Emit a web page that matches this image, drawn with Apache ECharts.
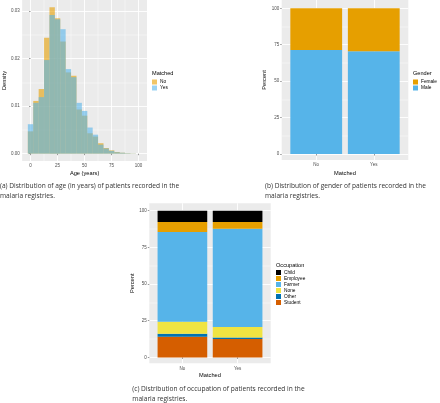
<!DOCTYPE html>
<html>
<head>
<meta charset="utf-8">
<script src="https://cdn.jsdelivr.net/npm/echarts@6/dist/echarts.min.js"></script>
<style>html,body{margin:0;padding:0;background:#fff}#c{width:440px;height:403px}</style>
</head>
<body>
<div id="c"></div>
<script>
// ---- Data ----
const ageBinCenters = [0,5,10,15,20,25,30,35,40,45,50,55,60,65,70,75,80,85,90,95];
const binWidth = 5;
const densityNo  = [0.0047,0.0111,0.0136,0.0244,0.0308,0.0285,0.0236,0.0171,0.0164,0.0093,0.0080,0.0043,0.0036,0.0022,0.0012,0.0007,0.00035,0.0002,0.0001,0.00005];
const densityYes = [0.0062,0.0107,0.0119,0.0197,0.0292,0.0283,0.0262,0.0178,0.0161,0.0107,0.0090,0.0055,0.0040,0.0019,0.0011,0.0006,0.0003,0.0002,0.0001,0.00005];
const ageTicks = [0,25,50,75,100];
const ageMinor = [12.5,37.5,62.5,87.5];
const densityTicks = [0,0.01,0.02,0.03];
const densityMinor = [0.005,0.015,0.025];

const matched = ['No','Yes'];
const genderNames = ['Female','Male'];
const genderMale   = [71.4,70.5];
const genderFemale = [28.6,29.5];

const occNames = ['Child','Employee','Farmer','None','Other','Student'];
const occChild    = [7.7,7.7];
const occEmployee = [6.8,4.6];
const occFarmer   = [61.2,67.0];
const occNone     = [8.2,7.1];
const occOther    = [2.0,1.1];
const occStudent  = [14.1,12.5];

const percentTicks = [0,25,50,75,100];
const percentMinor = [12.5,37.5,62.5,87.5];

// ---- Styles ----
const C = {orange:'#E69F00', blue:'#56B4E9', black:'#000000', yellow:'#F0E442', dblue:'#0072B2', red:'#D55E00'};
const FONT = 'Liberation Sans, Arial, sans-serif';
const tickLabel = {fontSize:4.5, color:'#4D4D4D', fontFamily:FONT};
const nameStyle = {fontSize:5.7, color:'#000', fontFamily:FONT};
const catPos = matched.map((m,i)=>i+1);
const barW = 0.9;

function majorAxis(extra){
  return Object.assign({
    axisLine:{show:false},
    splitLine:{show:true, lineStyle:{color:'#fff', width:0.9}},
    minorSplitLine:{show:false}
  }, extra);
}
function minorAxis(extra, vals){
  return Object.assign({
    show:true,
    axisLine:{show:false},
    axisTick:{show:false, customValues:vals},
    axisLabel:{show:false, customValues:vals},
    splitLine:{show:true, lineStyle:{color:'#fff', width:0.45}}
  }, extra);
}
const tickStyle = (vals)=>({show:true, length:1.5, lineStyle:{color:'#333',width:0.5}, customValues:vals});

const chart = echarts.init(document.getElementById('c'), null, {renderer:'canvas'});

const gridA = {left:18, top:0, width:129, height:161};
const gridB = {left:281.7, top:0, width:126.6, height:160};
const gridC = {left:149.3, top:203.3, width:121.4, height:160};

const legendTitle = {fontSize:5.6, fontWeight:'normal', color:'#000', fontFamily:FONT};
const legendText = {fontSize:4.8, color:'#000', fontFamily:FONT, padding:[0,0,0,-2]};

const option = {
  animation:false,
  backgroundColor:'#fff',
  grid:[gridA,gridB,gridC].map(g=>Object.assign({show:true, backgroundColor:'#EBEBEB', borderWidth:0, containLabel:false}, g)),
  xAxis:[
    majorAxis({type:'value', gridIndex:0, min:-7.75, max:107.75, axisTick:tickStyle(ageTicks),
      axisLabel:Object.assign({customValues:ageTicks, margin:2.5}, tickLabel),
      name:'Age (years)', nameLocation:'middle', nameGap:9.5, nameTextStyle:nameStyle}),
    minorAxis({type:'value', gridIndex:0, min:-7.75, max:107.75}, ageMinor),
    majorAxis({type:'value', gridIndex:1, min:0.4, max:2.6, axisTick:tickStyle(catPos),
      axisLabel:Object.assign({customValues:catPos, margin:2.5, formatter:v=>matched[Math.round(v)-1]}, tickLabel),
      name:'Matched', nameLocation:'middle', nameGap:10, nameTextStyle:nameStyle}),
    majorAxis({type:'value', gridIndex:2, min:0.4, max:2.6, axisTick:tickStyle(catPos),
      axisLabel:Object.assign({customValues:catPos, margin:2.5, formatter:v=>matched[Math.round(v)-1]}, tickLabel),
      name:'Matched', nameLocation:'middle', nameGap:9.5, nameTextStyle:nameStyle})
  ],
  yAxis:[
    majorAxis({type:'value', gridIndex:0, min:-0.00154, max:0.03234, axisTick:tickStyle(densityTicks),
      axisLabel:Object.assign({customValues:densityTicks, margin:2.5, formatter:v=>v.toFixed(2)}, tickLabel),
      name:'Density', nameLocation:'middle', nameGap:12, nameTextStyle:nameStyle}),
    minorAxis({type:'value', gridIndex:0, min:-0.00154, max:0.03234, position:'left'}, densityMinor),
    majorAxis({type:'value', gridIndex:1, min:-4.1, max:105.7, axisTick:tickStyle(percentTicks),
      axisLabel:Object.assign({customValues:percentTicks, margin:2.5}, tickLabel),
      name:'Percent', nameLocation:'middle', nameGap:11, nameTextStyle:nameStyle}),
    minorAxis({type:'value', gridIndex:1, min:-4.1, max:105.7, position:'left'}, percentMinor),
    majorAxis({type:'value', gridIndex:2, min:-4, max:105, axisTick:tickStyle(percentTicks),
      axisLabel:Object.assign({customValues:percentTicks, margin:2.5}, tickLabel),
      name:'Percent', nameLocation:'middle', nameGap:11, nameTextStyle:nameStyle}),
    minorAxis({type:'value', gridIndex:2, min:-4, max:105, position:'left'}, percentMinor)
  ],
  title:[
    {text:'Matched', left:152, top:70, textStyle:legendTitle, padding:0},
    {text:'Gender', left:413, top:70, textStyle:legendTitle, padding:0},
    {text:'Occupation', left:276, top:262, textStyle:legendTitle, padding:0}
  ],
  legend:[
    {data:['No','Yes'], left:152, top:79.5, orient:'vertical', itemWidth:5, itemHeight:5, itemGap:1, padding:0, icon:'rect', textStyle:legendText, selectedMode:false},
    {data:genderNames, left:413, top:79.5, orient:'vertical', itemWidth:5, itemHeight:5, itemGap:1, padding:0, icon:'rect', textStyle:legendText, selectedMode:false},
    {data:occNames, left:276, top:270, orient:'vertical', itemWidth:5, itemHeight:5, itemGap:1, padding:0, icon:'rect', textStyle:legendText, selectedMode:false}
  ],
  graphic:[
    {type:'text', left:0, top:181.5, style:{text:'(a) Distribution of age (in years) of patients recorded in the\nmalaria registries.', fontSize:6.6, lineHeight:9.8, fill:'#333', fontFamily:'Open Sans, sans-serif'}},
    {type:'text', left:265, top:181.5, style:{text:'(b) Distribution of gender of patients recorded in the\nmalaria registries.', fontSize:6.6, lineHeight:9.8, fill:'#333', fontFamily:'Open Sans, sans-serif'}},
    {type:'text', left:132.3, top:384, style:{text:'(c) Distribution of occupation of patients recorded in the\nmalaria registries.', fontSize:6.6, lineHeight:9.8, fill:'#333', fontFamily:'Open Sans, sans-serif'}}
  ],
  series:[]
};

function histSeries(name, vals, color){
  return {
    type:'custom', name:name, xAxisIndex:0, yAxisIndex:0,
    itemStyle:{color:color},
    data: ageBinCenters.map((c,i)=>[c, vals[i]]),
    renderItem:function(params, api){
      const c = api.value(0), v = api.value(1);
      const p0 = api.coord([c - binWidth/2, v]);
      const p1 = api.coord([c + binWidth/2, 0]);
      return {type:'rect', shape:{x:p0[0], y:p0[1], width:p1[0]-p0[0], height:p1[1]-p0[1]}, style:{fill:color}};
    }
  };
}
option.series.push(histSeries('No', densityNo, 'rgba(230,159,0,0.6)'));
option.series.push(histSeries('Yes', densityYes, 'rgba(86,180,233,0.6)'));

// stacked bars (bottom to top), drawn through the axes with a custom series
function stackGroup(layers, xi, yi){
  const base = catPos.map(()=>0);
  layers.forEach(([name, vals, color])=>{
    const data = vals.map((v,i)=>{ const d=[catPos[i], v, base[i]]; base[i]+=v; return d; });
    option.series.push({
      type:'custom', name:name, xAxisIndex:xi, yAxisIndex:yi,
      itemStyle:{color:color},
      encode:{x:0, y:1},
      data:data,
      renderItem:function(params, api){
        const x = api.value(0), v = api.value(1), b = api.value(2);
        const p0 = api.coord([x - barW/2, b + v]);
        const p1 = api.coord([x + barW/2, b]);
        return {type:'rect', shape:{x:p0[0], y:p0[1], width:p1[0]-p0[0], height:p1[1]-p0[1]}, style:{fill:color}};
      }
    });
  });
}
stackGroup([['Male', genderMale, C.blue], ['Female', genderFemale, C.orange]], 2, 2);
stackGroup([
  ['Student', occStudent, C.red], ['Other', occOther, C.dblue], ['None', occNone, C.yellow],
  ['Farmer', occFarmer, C.blue], ['Employee', occEmployee, C.orange], ['Child', occChild, C.black]
], 3, 4);

chart.setOption(option);
</script>
</body>
</html>
